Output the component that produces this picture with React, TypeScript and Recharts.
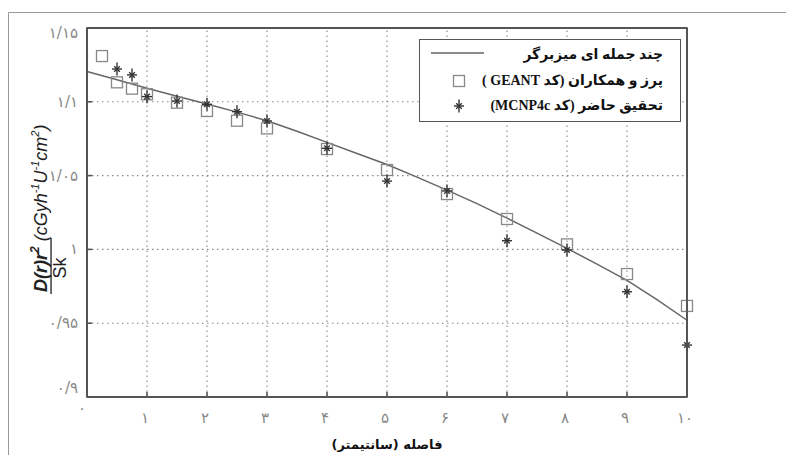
import React from 'react';
import { ComposedChart, Line, Scatter, XAxis, YAxis, Legend, ReferenceLine } from 'recharts';

// Polynomial fit curve
const fitX = [0, 0.5, 1, 1.5, 2, 2.5, 3, 3.5, 4, 4.5, 5, 5.5, 6, 6.5, 7, 7.5, 8, 8.5, 9, 9.5, 10];
const fitY = [1.1205, 1.115, 1.1092, 1.1038, 1.0985, 1.093, 1.0872, 1.08, 1.0725, 1.065, 1.0575, 1.049, 1.0402, 1.031, 1.0212, 1.011, 1.0007, 0.99, 0.979, 0.966, 0.952];
// Perez et al. (GEANT)
const geantX = [0.25, 0.5, 0.75, 1, 1.5, 2, 2.5, 3, 4, 5, 6, 7, 8, 9, 10];
const geantY = [1.131, 1.1132, 1.1089, 1.1051, 1.0994, 1.0938, 1.0872, 1.082, 1.068, 1.0538, 1.0375, 1.0206, 1.0034, 0.9833, 0.9617];
// Present study (MCNP4c)
const mcnpX = [0.5, 0.75, 1, 1.5, 2, 2.5, 3, 4, 5, 6, 7, 8, 9, 10];
const mcnpY = [1.1222, 1.1182, 1.1035, 1.1005, 1.0983, 1.0933, 1.087, 1.0685, 1.0463, 1.0396, 1.0059, 0.9996, 0.9713, 0.9352];

const xTicks = [0, 1, 2, 3, 4, 5, 6, 7, 8, 9, 10];
const xTickLabels = ['۰', '۱', '۲', '۳', '۴', '۵', '۶', '۷', '۸', '۹', '۱۰'];
const yTicks = [0.9, 0.95, 1, 1.05, 1.1, 1.15];
const yTickLabels = ['۰/۹', '۰/۹۵', '۱', '۱/۰۵', '۱/۱', '۱/۱۵'];

const legendLabels = ['چند جمله ای میزبرگر', 'پرز و همکاران (کد GEANT )', 'تحقیق حاضر (کد MCNP4c)'];
const xTitle = 'فاصله (سانتیمتر)';

const fitData = fitX.map((x, i) => ({ x, y: fitY[i] }));
const geantData = geantX.map((x, i) => ({ x, y: geantY[i] }));
const mcnpData = mcnpX.map((x, i) => ({ x, y: mcnpY[i] }));
const gridX = xTicks.slice(1, -1);
const gridY = yTicks.slice(1, -1);

const W = 786;
const H = 447;
const MARGIN = { top: 15, right: 97, bottom: 18, left: 19 };
const Y_AXIS_W = 60;
const Y_AXIS_RIGHT_W = 10;
const X_AXIS_H = 40;
const X_AXIS_TOP_H = 5;
const PLOT = {
  left: MARGIN.left + Y_AXIS_W,
  top: MARGIN.top + X_AXIS_TOP_H,
  right: W - MARGIN.right - Y_AXIS_RIGHT_W,
  bottom: H - MARGIN.bottom - X_AXIS_H,
};

const FRAME = '#555';
const TICK_TEXT = '#888';
const DIGIT_FONT = "'DejaVu Sans', sans-serif";

const BottomTick = (props: any) => {
  const { x, y, payload } = props;
  const i = xTicks.indexOf(payload.value);
  const zero = payload.value === 0;
  return (
    <g>
      <rect x={x - 0.8} y={y - 5} width={1.6} height={5} fill={FRAME} />
      <text x={x + (zero ? -5 : -2)} y={y + (zero ? 11 : 21)} textAnchor="middle" dominantBaseline="central" fontSize={15} fill={TICK_TEXT} fontFamily={DIGIT_FONT}>
        {xTickLabels[i]}
      </text>
    </g>
  );
};

const TopTick = (props: any) => {
  const { x, y } = props;
  return <rect x={x - 0.8} y={y} width={1.6} height={5} fill={FRAME} />;
};

const LeftTick = (props: any) => {
  const { x, y, payload } = props;
  const i = yTicks.indexOf(payload.value);
  const dy = payload.value === 0.9 ? -9 : payload.value === 1.15 ? 5 : 0;
  return (
    <g>
      <rect x={x} y={y - 0.8} width={5} height={1.6} fill={FRAME} />
      <text x={x - 9} y={y + dy} textAnchor="end" dominantBaseline="central" fontSize={15} fill={TICK_TEXT} fontFamily={DIGIT_FONT}>
        {yTickLabels[i]}
      </text>
    </g>
  );
};

const RightTick = (props: any) => {
  const { x, y } = props;
  return <rect x={x - 5} y={y - 0.8} width={5} height={1.6} fill={FRAME} />;
};

const SquareShape = (props: any) => {
  const { cx, cy } = props;
  return <rect x={cx - 5.5} y={cy - 5.5} width={11} height={11} fill="none" stroke="#888" strokeWidth={1.3} />;
};

const StarShape = (props: any) => {
  const { cx, cy } = props;
  return (
    <g stroke="#333" strokeWidth={1.4}>
      <line x1={cx - 5} y1={cy} x2={cx + 5} y2={cy} />
      <line x1={cx} y1={cy - 6.5} x2={cx} y2={cy + 6.5} />
      <line x1={cx - 2.8} y1={cy - 2.8} x2={cx + 2.8} y2={cy + 2.8} />
      <line x1={cx - 2.8} y1={cy + 2.8} x2={cx + 2.8} y2={cy - 2.8} />
    </g>
  );
};

const YTitle = () => (
  <g fontFamily="'Liberation Sans', Arial, sans-serif" fill="#222" fontStyle="italic">
    <text transform="translate(39,284) rotate(-90)" fontSize={18}>
      <tspan fontWeight="bold">D(r)r</tspan>
      <tspan dy={-8} fontSize={12} fontWeight="bold">2</tspan>
      <tspan dy={8}> (cGyh</tspan>
      <tspan dy={-8} fontSize={11}>-1</tspan>
      <tspan dy={8}>U</tspan>
      <tspan dy={-8} fontSize={11}>-1</tspan>
      <tspan dy={8}>cm</tspan>
      <tspan dy={-8} fontSize={11}>2</tspan>
      <tspan dy={8}>)</tspan>
    </text>
    <rect x={42.4} y={230} width={1.3} height={56} fill="#222" />
    <text transform="translate(58,260) rotate(-90)" fontSize={18} fontStyle="normal" textAnchor="middle">Sk</text>
  </g>
);

const XTitle = () => (
  <text x={(PLOT.left + PLOT.right) / 2} y={436} textAnchor="middle" dominantBaseline="central" direction="rtl" fontSize={13} fontWeight="bold" fill="#111" fontFamily="'DejaVu Sans', sans-serif">
    {xTitle}
  </text>
);

const LegendBox = () => {
  const textStyle: React.CSSProperties = {
    position: 'absolute',
    right: 17,
    height: 20,
    lineHeight: '20px',
    direction: 'rtl',
    whiteSpace: 'nowrap',
    fontSize: 14,
    fontWeight: 'bold',
    color: '#111',
    fontFamily: "'Liberation Serif', 'DejaVu Sans', serif",
  };
  return (
    <div style={{ position: 'relative', width: 262, height: 83, border: `1.5px solid ${FRAME}`, boxSizing: 'border-box', background: '#fff' }}>
      <svg width={262} height={83} style={{ position: 'absolute', left: 0, top: 0 }}>
        <line x1={11} y1={13} x2={64} y2={13} stroke="#666" strokeWidth={1.5} />
        <rect x={33.5} y={35.5} width={11} height={11} fill="none" stroke="#888" strokeWidth={1.3} />
        <g stroke="#333" strokeWidth={1.4}>
          <line x1={34} y1={66} x2={44} y2={66} />
          <line x1={39} y1={59.5} x2={39} y2={72.5} />
          <line x1={36.2} y1={63.2} x2={41.8} y2={68.8} />
          <line x1={36.2} y1={68.8} x2={41.8} y2={63.2} />
        </g>
      </svg>
      <div style={{ ...textStyle, top: 5 }}>{legendLabels[0]}</div>
      <div style={{ ...textStyle, top: 31 }}>{legendLabels[1]}</div>
      <div style={{ ...textStyle, top: 56 }}>{legendLabels[2]}</div>
    </div>
  );
};

export default function App() {
  return (
    <div style={{ position: 'relative', width: W, height: H }}>
      <div style={{ position: 'absolute', left: 0, top: 0 }}>
        <ComposedChart width={W} height={H} margin={MARGIN}>
          {gridX.map((v) => (
            <ReferenceLine key={`gx${v}`} x={v} stroke="#888" strokeWidth={1.1} strokeDasharray="1.5 3.5" />
          ))}
          {gridY.map((v) => (
            <ReferenceLine key={`gy${v}`} y={v} stroke="#888" strokeWidth={1.1} strokeDasharray="1.5 3.5" />
          ))}
          <XAxis dataKey="x" type="number" domain={[0, 10]} ticks={xTicks} interval={0} height={X_AXIS_H} tickSize={0} tickMargin={0} stroke={FRAME} strokeWidth={2} tick={<BottomTick />} label={<XTitle />} />
          <XAxis xAxisId="top" orientation="top" dataKey="x" type="number" domain={[0, 10]} ticks={xTicks} interval={0} height={X_AXIS_TOP_H} tickSize={0} tickMargin={0} stroke={FRAME} strokeWidth={2} tick={<TopTick />} />
          <YAxis dataKey="y" type="number" domain={[0.9, 1.15]} ticks={yTicks} interval={0} width={Y_AXIS_W} tickSize={0} tickMargin={0} stroke={FRAME} strokeWidth={2} tick={<LeftTick />} label={<YTitle />} />
          <YAxis yAxisId="right" orientation="right" dataKey="y" type="number" domain={[0.9, 1.15]} ticks={yTicks} interval={0} width={Y_AXIS_RIGHT_W} tickSize={0} tickMargin={0} stroke={FRAME} strokeWidth={2} tick={<RightTick />} />
          <Line data={fitData} dataKey="y" type="linear" stroke="#666" strokeWidth={1.5} dot={false} activeDot={false} isAnimationActive={false} />
          <Scatter data={geantData} dataKey="y" shape={<SquareShape />} isAnimationActive={false} />
          <Scatter data={mcnpData} dataKey="y" shape={<StarShape />} isAnimationActive={false} />
          <Legend layout="horizontal" align="center" verticalAlign="middle" content={<LegendBox />} wrapperStyle={{ left: 411, top: 31, width: 262, height: 83 }} />
        </ComposedChart>
      </div>
      <svg width={W} height={H + 8} style={{ position: 'absolute', left: 0, top: 0, pointerEvents: 'none', overflow: 'visible' }}>
        <path d={`M0.5,${H + 8} V4.5 H${W}`} fill="none" stroke="#999" strokeWidth={1} />
        <rect x={PLOT.left} y={PLOT.top} width={PLOT.right - PLOT.left} height={PLOT.bottom - PLOT.top} fill="none" stroke={FRAME} strokeWidth={1.6} />
      </svg>
    </div>
  );
}
